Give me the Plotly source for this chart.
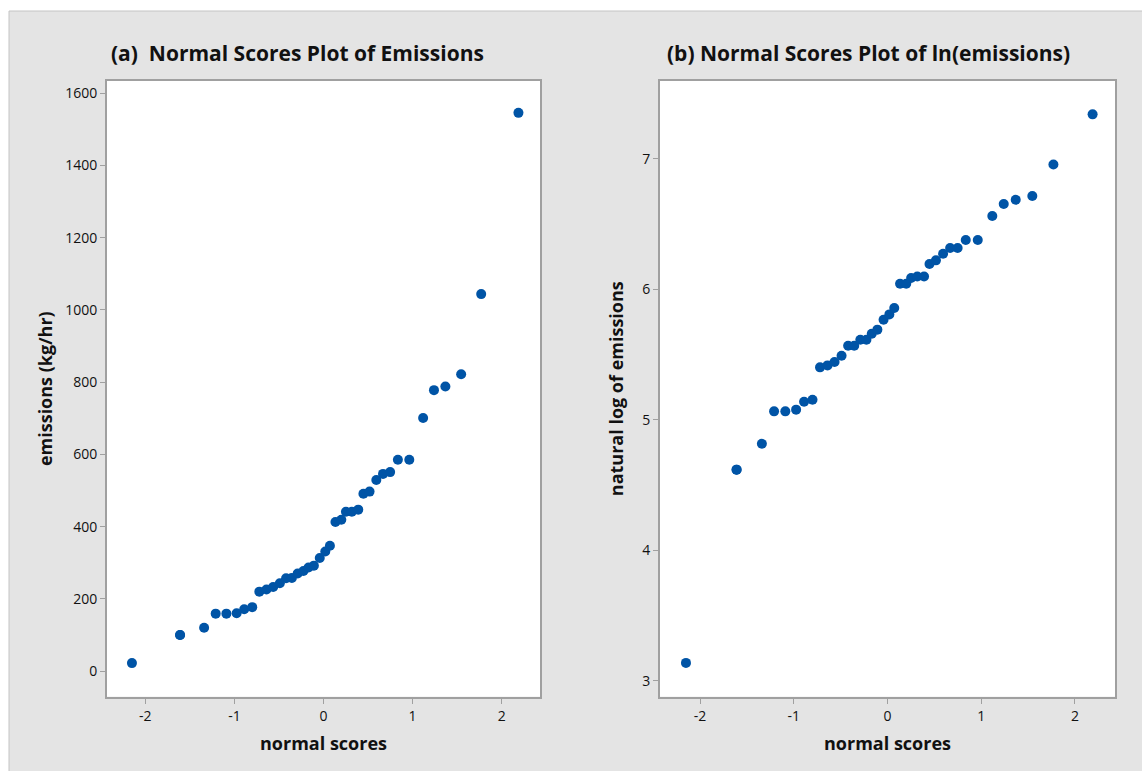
import plotly.graph_objects as go

# Normal scores (shared by both panels); the tied pair at 100 kg/hr shares a score
normal_scores = [
    -2.15, -1.61, -1.61, -1.34, -1.21, -1.09, -0.975, -0.89, -0.80, -0.72,
    -0.64, -0.565, -0.49, -0.42, -0.355, -0.29, -0.225, -0.168, -0.108, -0.042,
    0.02, 0.072, 0.134, 0.20, 0.252, 0.318, 0.39, 0.448, 0.517, 0.593,
    0.668, 0.748, 0.835, 0.963, 1.118, 1.24, 1.368, 1.545, 1.77, 2.188,
]

# Emissions (kg/hr), sorted
emissions = [
    22, 100, 100, 120, 159, 159, 160, 171, 177, 220,
    226, 233, 243, 257, 258, 270, 277, 287, 292, 313,
    331, 347, 413, 419, 441, 441, 447, 491, 497, 529,
    546, 551, 585, 585, 701, 778, 788, 822, 1044, 1546,
]

# Natural log of emissions, sorted
ln_emissions = [
    3.136, 4.617, 4.617, 4.816, 5.064, 5.064, 5.077, 5.138, 5.153, 5.401,
    5.416, 5.442, 5.49, 5.567, 5.567, 5.613, 5.613, 5.659, 5.69, 5.766,
    5.807, 5.856, 6.042, 6.042, 6.086, 6.098, 6.098, 6.193, 6.221, 6.272,
    6.316, 6.316, 6.377, 6.377, 6.561, 6.653, 6.686, 6.714, 6.956, 7.34,
]

x_ticks = [-2, -1, 0, 1, 2]
x_tick_text = ["-2", "-1", "0", "1", "2"]
y_ticks_a = [0, 200, 400, 600, 800, 1000, 1200, 1400, 1600]
y_ticks_b = [3, 4, 5, 6, 7]

W, H = 1142, 771
FONT = "Open Sans"
BLUE = "#0054A6"
AXIS_GREY = "#a0a0a0"
PANEL_GREY = "#e4e4e4"


def px_x(v):
    return v / W


def px_y(v):
    return 1 - v / H


fig = go.Figure()
marker = dict(color=BLUE, size=10, line=dict(width=0))
fig.add_trace(go.Scatter(x=normal_scores, y=emissions, mode="markers",
                         marker=marker, xaxis="x", yaxis="y", showlegend=False))
fig.add_trace(go.Scatter(x=normal_scores, y=ln_emissions, mode="markers",
                         marker=marker, xaxis="x2", yaxis="y2", showlegend=False))

axis_common = dict(
    showgrid=False, zeroline=False, showline=True, mirror=True,
    linecolor=AXIS_GREY, linewidth=2, ticks="outside", ticklen=5,
    tickwidth=1, tickcolor=AXIS_GREY,
    tickfont=dict(family=FONT, size=14, color="#111111"),
)
title_font = dict(family=FONT, size=18, color="#111111", weight="bold")

y_dom = [px_y(696.7), px_y(80.7)]

fig.update_layout(
    width=W, height=H,
    margin=dict(l=0, r=0, t=0, b=0),
    paper_bgcolor=PANEL_GREY, plot_bgcolor="white",
    xaxis=dict(domain=[px_x(107), px_x(540)], range=[-2.43, 2.43],
               tickvals=x_ticks, ticktext=x_tick_text, anchor="y",
               title=dict(text="normal scores", font=title_font, standoff=14),
               **axis_common),
    yaxis=dict(domain=y_dom, range=[-71, 1635], tickvals=y_ticks_a, anchor="x",
               title=dict(text="emissions (kg/hr)", font=title_font, standoff=8),
               **axis_common),
    xaxis2=dict(domain=[px_x(660), px_x(1115)], range=[-2.427, 2.427],
                tickvals=x_ticks, ticktext=x_tick_text, anchor="y2",
                title=dict(text="normal scores", font=title_font, standoff=14),
                **axis_common),
    yaxis2=dict(domain=y_dom, range=[2.877, 7.598], tickvals=y_ticks_b, anchor="x2",
                title=dict(text="natural log of emissions", font=title_font, standoff=14),
                **axis_common),
    shapes=[
        # white page strips above and left of the grey panel
        dict(type="rect", xref="paper", yref="paper", layer="below",
             x0=-0.01, x1=1.01, y0=px_y(11), y1=1.01,
             fillcolor="white", line=dict(width=0)),
        dict(type="rect", xref="paper", yref="paper", layer="below",
             x0=-0.01, x1=px_x(9), y0=-0.01, y1=1.01,
             fillcolor="white", line=dict(width=0)),
        # panel edge lines
        dict(type="line", xref="paper", yref="paper", layer="below",
             x0=px_x(9), x1=1.01, y0=px_y(11), y1=px_y(11),
             line=dict(color="#c4c4c4", width=1)),
        dict(type="line", xref="paper", yref="paper", layer="below",
             x0=px_x(9), x1=px_x(9), y0=-0.01, y1=px_y(11),
             line=dict(color="#c4c4c4", width=1)),
    ],
    annotations=[
        dict(text="(a)  Normal Scores Plot of Emissions", xref="paper", yref="paper",
             x=px_x(297), y=px_y(53), showarrow=False, xanchor="center", yanchor="middle",
             font=dict(family=FONT, size=21, color="#111111", weight="bold")),
        dict(text="(b) Normal Scores Plot of ln(emissions)", xref="paper", yref="paper",
             x=px_x(868), y=px_y(53), showarrow=False, xanchor="center", yanchor="middle",
             font=dict(family=FONT, size=21, color="#111111", weight="bold")),
    ],
)

fig.write_html("out.html")
